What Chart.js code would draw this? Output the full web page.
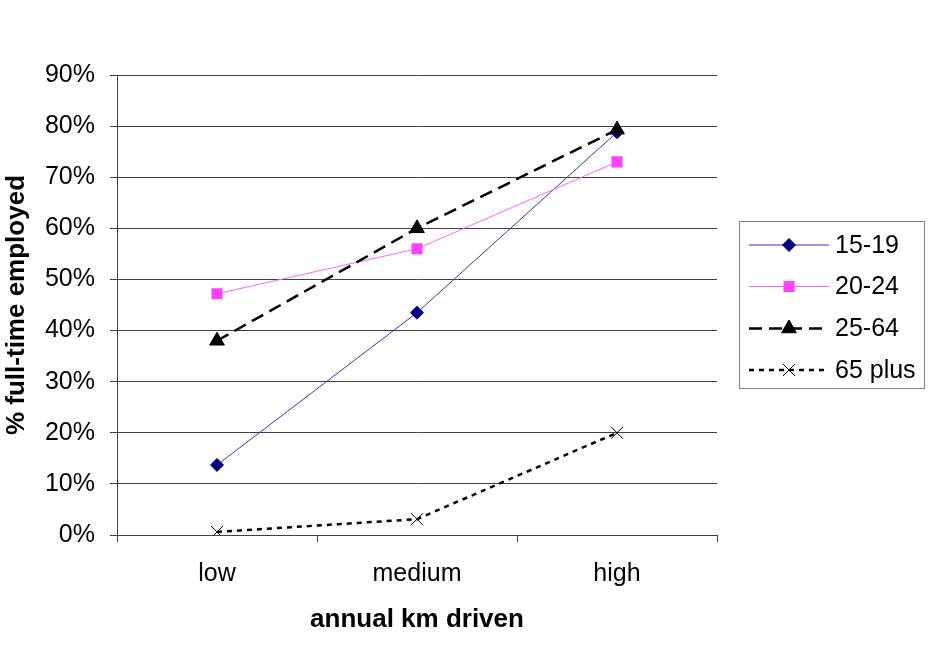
<!DOCTYPE html>
<html><head><meta charset="utf-8">
<script src="https://cdn.jsdelivr.net/npm/chart.js@4"></script>
<style>html,body{margin:0;padding:0;background:#fff;} canvas{display:block;}</style>
</head><body>
<canvas id="c" width="930" height="657"></canvas>
<script>
const categories = ['low', 'medium', 'high'];
const seriesNames = ['15-19', '20-24', '25-64', '65 plus'];
const values1519 = [13.7, 43.5, 78.8];
const values2024 = [47.2, 56.0, 73.0];
const values2564 = [38.0, 60.0, 79.3];
const values65plus = [0.6, 3.1, 20.0];
const yTickValues = [0, 10, 20, 30, 40, 50, 60, 70, 80, 90];
const xTitle = 'annual km driven';
const yTitle = '% full-time employed';

const FONT = "'Liberation Sans', Arial, sans-serif";

const datasets = [
  { label: seriesNames[0], data: values1519, order: 4, borderColor: '#3535c8', backgroundColor: '#000080',
    pointBorderColor: '#000080', borderWidth: 1, pointStyle: 'rectRot', pointRadius: 6.5, pointBorderWidth: 1 },
  { label: seriesNames[1], data: values2024, order: 3, borderColor: '#ff66ff', backgroundColor: '#ff40ff',
    pointBorderColor: '#ff40ff', borderWidth: 1, pointStyle: 'rect', pointRadius: 7.8, pointBorderWidth: 0 },
  { label: seriesNames[2], data: values2564, order: 2, borderColor: '#000000', backgroundColor: '#000000',
    pointBorderColor: '#000000', borderWidth: 2.5, borderDash: [13, 7], pointStyle: 'triangle', pointRadius: 8.5, pointBorderWidth: 1 },
  { label: seriesNames[3], data: values65plus, order: 1, borderColor: '#000000', backgroundColor: 'rgba(0,0,0,0)',
    pointBorderColor: '#000000', borderWidth: 2.5, borderDash: [5, 5], pointStyle: 'crossRot', pointRadius: 8.5, pointBorderWidth: 1 }
];
datasets.forEach(d => { d.tension = 0; d.fill = false; d.pointHoverRadius = d.pointRadius; d.pointBackgroundColor = d.backgroundColor; });

const boxLegend = {
  id: 'boxLegend',
  afterDraw(chart) {
    const ctx = chart.ctx;
    const left = 739.5, top = 221.5, right = 924.5, bottom = 388.5;
    ctx.save();
    ctx.strokeStyle = '#808080';
    ctx.lineWidth = 1;
    ctx.strokeRect(left, top, right - left, bottom - top);
    const rowY = [245, 286.5, 328.5, 370];
    chart.data.datasets.forEach((ds, i) => {
      const y = rowY[i];
      ctx.save();
      ctx.strokeStyle = ds.borderColor;
      ctx.lineWidth = ds.borderWidth;
      ctx.setLineDash(ds.borderDash || []);
      ctx.beginPath();
      ctx.moveTo(749, y);
      ctx.lineTo(829, y);
      ctx.stroke();
      ctx.restore();
      ctx.save();
      ctx.fillStyle = ds.backgroundColor;
      ctx.strokeStyle = ds.pointBorderColor;
      ctx.lineWidth = ds.pointBorderWidth;
      Chart.helpers.drawPoint(ctx, { pointStyle: ds.pointStyle, radius: ds.pointRadius, rotation: 0, borderWidth: ds.pointBorderWidth }, 789, y);
      ctx.restore();
      ctx.fillStyle = '#000';
      ctx.font = '25px ' + FONT;
      ctx.textAlign = 'left';
      ctx.textBaseline = 'middle';
      ctx.fillText(ds.label, 835, y + 1);
    });
    ctx.restore();
  }
};

const whiteBg = {
  id: 'whiteBg',
  beforeDraw(chart) {
    const ctx = chart.ctx;
    ctx.save();
    ctx.fillStyle = '#fff';
    ctx.fillRect(0, 0, chart.width, chart.height);
    ctx.restore();
  }
};

new Chart(document.getElementById('c'), {
  type: 'line',
  data: { labels: categories, datasets },
  options: {
    responsive: false,
    animation: false,
    devicePixelRatio: 1,
    layout: { padding: { left: 0, top: 75, right: 213, bottom: 0 } },
    plugins: { legend: { display: false }, tooltip: { enabled: false } },
    scales: {
      x: {
        offset: true,
        grid: { offset: true, drawOnChartArea: false, drawTicks: true, tickLength: 7, color: '#404040' },
        border: { display: true, color: '#404040', width: 1 },
        ticks: { color: '#000', font: { family: FONT, size: 25 }, padding: 17, maxRotation: 0 },
        title: { display: true, text: xTitle, color: '#000', font: { family: FONT, size: 26, weight: 'bold' }, padding: { top: 0, bottom: 22 } },
        afterFit: (s) => { s.height = 122; }
      },
      y: {
        min: 0, max: 90,
        afterBuildTicks: (s) => { s.ticks = yTickValues.map(v => ({ value: v })); },
        grid: { color: '#404040', lineWidth: 1, drawTicks: true, tickLength: 7 },
        border: { display: true, color: '#404040', width: 1 },
        ticks: { color: '#000', font: { family: FONT, size: 25 }, padding: 15, callback: (v) => v + '%' },
        title: { display: true, text: yTitle, color: '#000', font: { family: FONT, size: 26, weight: 'bold' }, padding: { top: 1, bottom: 0 } },
        afterFit: (s) => { s.width = 117; }
      }
    }
  },
  plugins: [whiteBg, boxLegend]
});
</script>
</body></html>
